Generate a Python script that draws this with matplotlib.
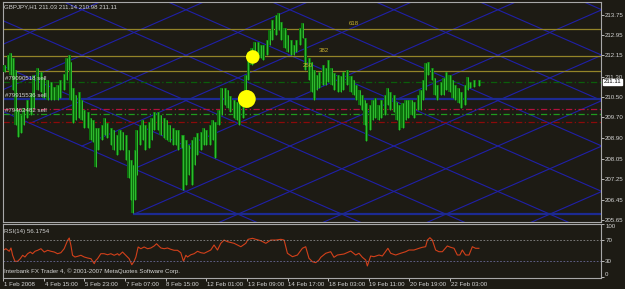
import matplotlib
matplotlib.use("Agg")
import matplotlib.pyplot as plt
import matplotlib.transforms as mtransforms
import numpy as np

plt.rcParams['font.family'] = ['Liberation Sans Narrow', 'Liberation Sans', 'DejaVu Sans']

# H1 bars (bar number, high, low)
bar_idx = [1, 4, 6, 8, 10, 12, 14, 16, 19, 22, 24, 27, 30, 32, 35, 38, 40, 43, 45, 48,
           50, 52, 53, 55, 57, 60, 62, 64, 67, 69, 71, 73, 75, 78, 80, 82, 85, 87, 90, 92,
           94, 97, 99, 101, 102, 104, 105, 108, 110, 112, 115, 117, 119, 122, 124, 127, 129, 131, 134, 136,
           138, 141, 142, 144, 146, 149, 151, 153, 156, 158, 160, 163, 165, 167, 170, 172, 175, 177, 179, 182,
           184, 186, 189, 191, 193, 196, 198, 201, 203, 205, 208, 210, 212, 215, 217, 219, 222, 224, 227, 229,
           231, 234, 236, 238, 241, 243, 245, 247, 249, 252, 254, 256, 259, 261, 264, 266, 268, 271, 274, 276,
           278, 281, 283, 285, 286, 289, 291, 293, 296, 298, 301, 303, 305, 308, 310, 312, 315, 317, 319, 322,
           324, 327, 329, 331, 333, 335, 338, 340, 342, 345, 347, 349, 352, 354, 356, 359, 361, 364, 366, 368,
           371, 375]
bar_high = [211.77, 212.17, 212.25, 212.05, 211.58, 209.99, 209.80, 210.07, 210.39, 210.67, 211.38, 211.66, 211.50, 211.26, 211.18, 211.10, 210.90, 210.98, 211.18, 211.42,
            212.05, 212.17, 211.89, 210.86, 210.59, 210.71, 210.39, 209.99, 209.92, 209.68, 209.60, 209.28, 209.28, 209.40, 209.68, 209.48, 209.28, 209.20, 209.01, 209.20,
            209.13, 209.01, 208.42, 208.02, 207.82, 208.42, 209.20, 209.40, 209.60, 209.40, 209.52, 209.68, 209.92, 209.92, 209.80, 209.68, 209.60, 209.40, 209.28, 209.20,
            209.20, 209.01, 209.01, 208.81, 208.61, 208.81, 208.93, 209.09, 209.13, 209.28, 209.20, 209.40, 209.60, 209.52, 209.99, 210.86, 210.86, 210.79, 210.55, 210.39,
            210.31, 210.47, 210.59, 211.38, 212.29, 212.45, 212.68, 212.68, 212.56, 212.56, 212.76, 213.16, 213.55, 213.75, 213.83, 213.47, 213.24, 212.96, 212.76, 212.56,
            212.76, 213.24, 213.43, 212.84, 212.05, 211.89, 211.58, 211.38, 211.50, 211.77, 211.66, 211.97, 211.66, 211.46, 211.38, 211.34, 211.50, 211.58, 211.34, 211.18,
            210.98, 210.79, 210.59, 210.39, 210.27, 210.19, 210.39, 210.47, 210.19, 210.39, 210.59, 210.86, 210.71, 210.59, 210.31, 210.19, 210.27, 210.39, 210.39, 210.39,
            210.31, 210.59, 210.79, 211.18, 211.85, 211.89, 211.66, 211.26, 210.98, 211.10, 211.26, 211.50, 211.38, 211.18, 210.98, 210.86, 210.71, 210.98, 211.30, 211.10,
            211.18, 211.18]
bar_low = [211.50, 211.58, 211.38, 210.79, 209.40, 208.93, 209.09, 209.40, 209.68, 209.80, 210.07, 210.79, 210.71, 210.47, 210.39, 210.39, 210.39, 210.39, 210.47, 210.79,
           211.18, 211.58, 210.39, 209.48, 209.60, 209.68, 209.60, 209.28, 209.28, 208.81, 208.73, 207.74, 208.42, 208.81, 209.01, 208.89, 208.61, 208.42, 208.22, 208.42,
           208.42, 208.02, 207.31, 206.44, 205.92, 206.44, 207.43, 208.61, 208.81, 208.42, 208.49, 208.81, 209.20, 209.20, 209.01, 208.89, 208.81, 208.73, 208.61, 208.61,
           208.42, 208.49, 206.83, 207.03, 207.43, 207.03, 207.82, 208.22, 208.42, 208.61, 208.61, 208.61, 208.81, 208.10, 209.40, 209.80, 210.19, 210.07, 209.92, 209.68,
           209.60, 209.40, 209.68, 210.11, 211.18, 211.77, 212.05, 212.17, 212.05, 211.97, 212.17, 212.56, 212.76, 212.96, 213.16, 212.76, 212.45, 212.29, 212.17, 212.17,
           212.29, 212.56, 212.84, 211.58, 211.18, 210.71, 210.39, 210.79, 210.86, 210.98, 210.98, 211.10, 210.98, 210.79, 210.71, 210.71, 210.79, 210.98, 210.71, 210.59,
           210.39, 210.19, 209.99, 209.40, 208.77, 209.20, 209.60, 209.68, 209.60, 209.68, 209.80, 210.19, 209.99, 209.92, 209.60, 209.20, 209.28, 209.60, 209.68, 209.80,
           209.68, 209.99, 209.99, 210.39, 210.79, 211.38, 211.18, 210.59, 210.39, 210.59, 210.59, 210.79, 210.71, 210.47, 210.39, 210.27, 210.07, 210.19, 210.79, 210.86,
           210.90, 210.94]

# RSI(14)
rsi_idx = [0, 2.1, 4.7, 6.1, 7.4, 9.2, 11.3, 13.4, 15.3, 17.1, 19.2, 21.3, 23.1, 25, 27.1, 29.7, 32.3, 35, 37.6, 40.2,
           42.8, 45.4, 48, 50.7, 52, 53.3, 54.6, 56.5, 58.6, 61.2, 63.8, 66.5, 69.1, 71.7, 73, 74.3, 76.9, 79.5, 82.2, 84.8,
           87.4, 90.1, 91.3, 94, 95.3, 96.6, 99.2, 101.3, 103.1, 104.5, 106.3, 108.4, 111, 113.7, 116.3, 118.9, 120.8, 122, 124.2, 126.8,
           129.4, 132, 134.6, 137.3, 139.9, 142, 143.9, 145.2, 147.8, 150.4, 153.1, 155.7, 158.3, 163.5, 166.1, 168.8, 171.4, 174, 176.7, 181.9,
           187.2, 191.1, 192.9, 196.4, 199, 202.9, 206.9, 210.8, 214.8, 218.7, 221.3, 223.9, 227.9, 231.8, 235.7, 238.3, 240.9, 243.6, 246.2, 248.8,
           250.2, 254.1, 258, 260.6, 263.3, 268.5, 273.8, 277.7, 280.3, 283, 285.6, 286.9, 289.5, 292.1, 296.1, 298.7, 303.1, 305.3, 309.2, 313.1,
           317.1, 319.7, 323.6, 327.6, 330.2, 332.8, 334.2, 336.2, 338.1, 340.7, 343.3, 346, 349.9, 352.5, 355.2, 357.8, 359.8, 361.7, 364.3, 367,
           369.6, 372.2, 374.8]
rsi_val = [50.5, 53.5, 48.6, 54.9, 41, 29.5, 29.5, 34.5, 41, 37.7, 44, 47.2, 44, 48.6, 50.5, 53.5, 47.2, 50.5, 48.6, 47.2,
           44, 45.9, 53.5, 69.5, 73.9, 60, 41, 37.7, 39, 41, 37.7, 35.8, 34.5, 25, 31.4, 34.5, 44, 44, 42, 44,
           41, 44, 41, 47.2, 44, 41, 34.5, 23, 29.5, 37.7, 56.8, 53.5, 56.8, 53.5, 54.9, 58.7, 63, 60, 54.9, 53.5,
           54.9, 52.4, 50.5, 50.5, 45.9, 29.5, 41, 37.7, 42, 44, 48.6, 45.9, 44.8, 51, 60.6, 51, 63.8, 70, 66.9, 63.8,
           57.3, 63.8, 71.4, 73.3, 71.4, 68.8, 63.8, 70, 70, 71.4, 70, 44.8, 38.3, 41.5, 54.3, 57.3, 35.2, 28.8, 26.9, 32,
           37.1, 44.8, 47.8, 37.1, 41.5, 43.4, 49.1, 41.5, 44.8, 37.1, 32, 20.6, 39.6, 38.3, 41.5, 39.6, 54.3, 44.8, 41.5, 44.8,
           47.8, 51, 51, 54.3, 56.2, 57.3, 70, 74.5, 70, 51, 47.8, 47.8, 58.7, 56.2, 54.3, 41.5, 41.5, 51, 41.5, 41.5,
           57.3, 54.3, 54.3]

time_ticks = [0, 32, 64, 96, 128, 160, 192, 224, 256, 288, 320, 352]
time_labels = ['1 Feb 2008', '4 Feb 15:00', '5 Feb 23:00', '7 Feb 07:00', '8 Feb 15:00', '12 Feb 01:00',
               '13 Feb 09:00', '14 Feb 17:00', '18 Feb 03:00', '19 Feb 11:00', '20 Feb 19:00', '22 Feb 03:00']
price_ticks = [213.75, 212.95, 212.15, 211.30, 210.50, 209.70, 208.90, 208.05, 207.25, 206.45, 205.65]
rsi_ticks = [0, 30, 70, 100]

fib_levels = [213.20, 212.13, 211.54]
fib_names = ['618', '382', '250']
fib_label_bars = [276, 253, 240]

order_levels = [211.10, 210.41, 209.84]
order_names = ['#79090518 sell', '#79915536 sell', '#79462482 sell']
order_colors = ['#0b5e0b', '#1c2a92', '#1e9a1e']
stop_levels = [210.03, 209.52]
stop_colors = ['#b3123c', '#8c0a0a']

circle_bars = [196.6, 191.9]
circle_prices = [212.09, 210.43]
circle_sizes = [95, 165]

# gann grid: anchored on the low
gann_bar = 103
gann_price = 205.88
gann_slope = 0.0219
gann_step = 1.794

last_price = 211.11

bg = '#1d1b14'
fg = '#d4d4d4'
fs = 4.4

fig = plt.figure(figsize=(6.25, 2.89), dpi=100, facecolor=bg)
ax = fig.add_axes([3/625, 67/289, 598/625, 220/289], facecolor=bg)
ax2 = fig.add_axes([3/625, 11/289, 598/625, 54/289], facecolor=bg)

xmin, xmax = -0.2, 471
ax.set_xlim(xmin, xmax)
ax.set_ylim(205.57, 214.26)

# gann grid lines
xs = np.array([xmin, xmax])
for j in range(1, 10):
    ax.plot(xs, gann_price + j*gann_step - gann_slope*(xs - gann_bar), color='#2020a8', lw=0.8, zorder=1)
for i in range(-5, 8):
    j0 = 1 if i >= 1 else 0
    start = max(xmin, gann_bar + (j0 - i)*gann_step/(2*gann_slope))
    seg = np.array([start, xmax])
    ax.plot(seg, gann_price + i*gann_step + gann_slope*(seg - gann_bar), color='#2020a8', lw=0.8, zorder=1)
ax.plot([gann_bar, xmax], [gann_price, gann_price], color='#1c2a92', lw=1.6, zorder=1)

# fibo levels
for lvl, name, b in zip(fib_levels, fib_names, fib_label_bars):
    ax.axhline(lvl, color='#948428', lw=0.9, zorder=2)
    ax.text(b, lvl + 0.1, name, color='#c8b030', fontsize=fs, ha='center', va='bottom', zorder=5)

# orders
for lvl, name, c in zip(order_levels, order_names, order_colors):
    if c == '#1c2a92':
        ax.axhline(lvl, color=c, lw=1.6, zorder=2)
    else:
        ax.axhline(lvl, color=c, lw=0.9, ls=(0, (5, 2, 1, 2)), zorder=2)
    ax.text(1.5, lvl + 0.05, name, color=fg, fontsize=fs, ha='left', va='bottom', zorder=5)
for lvl, c in zip(stop_levels, stop_colors):
    ax.axhline(lvl, color=c, lw=0.9, ls=(0, (5, 2, 1, 2)), zorder=2)

# bars
hi = np.array(bar_high)
lo = np.array(bar_low)
ax.bar(bar_idx, hi - lo, bottom=lo, width=2.4, color='#0d700d', linewidth=0, zorder=3)
ax.vlines(bar_idx, lo, hi, color='#36c836', lw=0.6, zorder=3)

ax.scatter(circle_bars, circle_prices, s=circle_sizes, color='#ffff00', linewidths=0, zorder=4)

ax.text(0.002, 0.977, 'GBPJPY,H1 211.03 211.14 210.98 211.11', color=fg, fontsize=fs,
        transform=ax.transAxes, ha='left', va='center')

ax.yaxis.tick_right()
ax.set_yticks(price_ticks)
ax.set_yticklabels(['%.2f' % p for p in price_ticks])
ax.tick_params(axis='y', colors=fg, labelsize=fs, length=2, width=0.6, pad=1)
ax.set_xticks([])
trans = mtransforms.blended_transform_factory(ax.transAxes, ax.transData)
ax.text(1.004, last_price, '%.2f' % last_price, transform=trans, fontsize=fs, color='black',
        ha='left', va='center', zorder=6,
        bbox=dict(boxstyle='square,pad=0.12', facecolor='white', edgecolor='white'))

# RSI panel
ax2.set_xlim(xmin, xmax)
ax2.set_ylim(-2.3, 100.6)
ax2.plot(rsi_idx, rsi_val, color='#d2401a', lw=0.8)
ax2.axhline(70, color='#8a8a8a', lw=0.6, ls=(0, (2, 2)))
ax2.axhline(30, color='#6a6a9a', lw=0.6, ls=(0, (2, 2)))
ax2.text(0.002, 0.86, 'RSI(14) 56.1754', color=fg, fontsize=fs, transform=ax2.transAxes, ha='left', va='center')
ax2.text(0.002, 0.12, 'Interbank FX Trader 4, \u00a9 2001-2007 MetaQuotes Software Corp.', color=fg,
         fontsize=fs, transform=ax2.transAxes, ha='left', va='center')
ax2.yaxis.tick_right()
ax2.set_yticks(rsi_ticks)
ax2.set_yticklabels([str(v) for v in rsi_ticks])
ax2.tick_params(axis='y', colors=fg, labelsize=fs, length=2, width=0.6, pad=1)
ylabs = ax2.get_yticklabels()
ylabs[-1].set_verticalalignment('top')
ylabs[0].set_verticalalignment('bottom')
ax2.set_xticks(time_ticks)
ax2.set_xticklabels(time_labels)
ax2.tick_params(axis='x', colors=fg, labelsize=fs, length=2, width=0.6, pad=1)
offset = mtransforms.ScaledTranslation(0.5/72, 0, fig.dpi_scale_trans)
for lab in ax2.get_xticklabels():
    lab.set_horizontalalignment('left')
    lab.set_transform(lab.get_transform() + offset)

for a in (ax, ax2):
    for sp in a.spines.values():
        sp.set_color('#a8a8a8')
        sp.set_linewidth(0.8)

fig.savefig('out.png', dpi=100, facecolor=bg)
